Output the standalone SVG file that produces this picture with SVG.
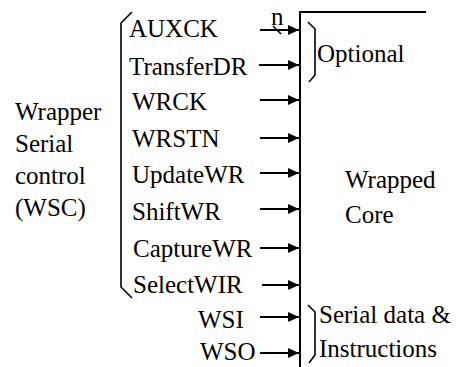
<svg xmlns="http://www.w3.org/2000/svg" width="468" height="367" viewBox="0 0 468 367">
  <style>
    text { font-family: Liberation Serif, Tinos, Times, serif; font-size: 25px; fill: #000; }
    .wire { stroke: #000; stroke-width: 2; fill: none; }
    .bracket { stroke: #000; stroke-width: 1.6; fill: none; }
    .core { stroke: #000; stroke-width: 2; fill: none; }
  </style>
  <defs>
    <marker id="arrow" markerWidth="11" markerHeight="10" refX="11" refY="5" orient="auto" markerUnits="userSpaceOnUse">
      <path d="M0,0 L11,5 L0,10 Z" fill="#000"/>
    </marker>
  </defs>
  <rect width="468" height="367" fill="#fff"/>

  <!-- Wrapped core outline -->
  <g id="core">
    <path class="core" d="M426,12 H300 V367"/>
    <text x="345" y="188">Wrapped</text>
    <text x="345" y="223">Core</text>
  </g>

  <!-- WSC description -->
  <g id="wsc-label">
    <text x="15" y="120">Wrapper</text>
    <text x="15" y="152">Serial</text>
    <text x="15" y="184">control</text>
    <text x="15" y="216">(WSC)</text>
    <path class="bracket" d="M132,12 L121,23 V287 L132,298"/>
  </g>

  <!-- signal names -->
  <g id="signals">
    <text x="129" y="37">AUXCK</text>
    <text x="129" y="75">TransferDR</text>
    <text x="132" y="110">WRCK</text>
    <text x="132" y="147">WRSTN</text>
    <text x="132" y="183">UpdateWR</text>
    <text x="132" y="220">ShiftWR</text>
    <text x="133" y="257">CaptureWR</text>
    <text x="133" y="293">SelectWIR</text>
    <text x="198" y="328">WSI</text>
    <text x="200" y="360">WSO</text>
  </g>

  <!-- group annotations -->
  <g id="optional">
    <path class="bracket" d="M308,22 L315,29 V75 L309,82"/>
    <text x="317" y="62">Optional</text>
  </g>
  <g id="serial-data">
    <path class="bracket" d="M308,305 L315,312 V355 L309,363"/>
    <text x="319" y="323">Serial data &amp;</text>
    <text x="319" y="357">Instructions</text>
  </g>

  <!-- connectors -->
  <g id="connectors">
    <line class="wire" x1="260" y1="30" x2="299" y2="30" marker-end="url(#arrow)"/>
    <line class="wire" x1="259" y1="65" x2="299" y2="65" marker-end="url(#arrow)"/>
    <line class="wire" x1="260" y1="100" x2="299" y2="100" marker-end="url(#arrow)"/>
    <line class="wire" x1="260" y1="138" x2="299" y2="138" marker-end="url(#arrow)"/>
    <line class="wire" x1="260" y1="173" x2="299" y2="173" marker-end="url(#arrow)"/>
    <line class="wire" x1="260" y1="209" x2="299" y2="209" marker-end="url(#arrow)"/>
    <line class="wire" x1="260" y1="248" x2="299" y2="248" marker-end="url(#arrow)"/>
    <line class="wire" x1="262" y1="285" x2="299" y2="285" marker-end="url(#arrow)"/>
    <line class="wire" x1="260" y1="317" x2="299" y2="317" marker-end="url(#arrow)"/>
    <line class="wire" x1="260" y1="353" x2="299" y2="353" marker-end="url(#arrow)"/>
    <!-- bus width mark on AUXCK -->
    <line class="bracket" x1="273" y1="26" x2="281" y2="34"/>
    <text x="271" y="25">n</text>
  </g>
</svg>
